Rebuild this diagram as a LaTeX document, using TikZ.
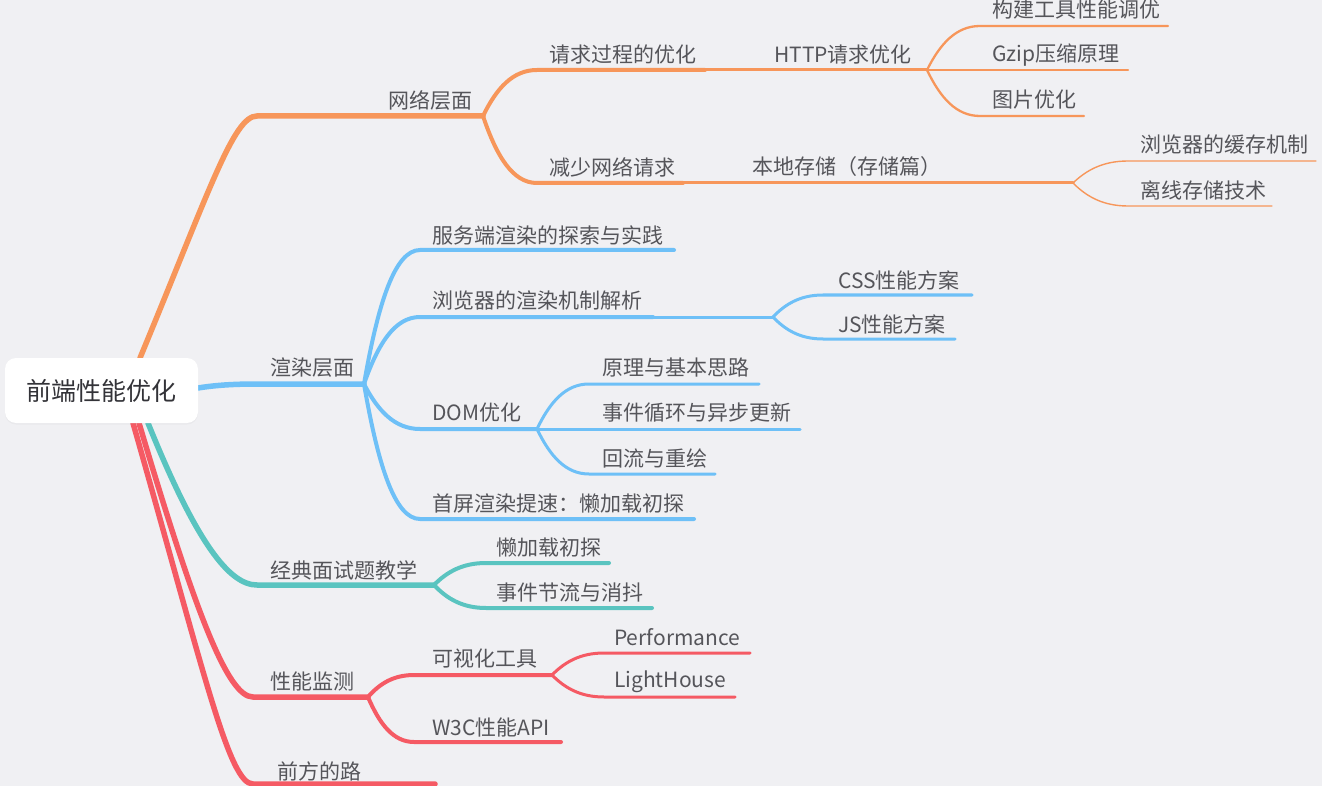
\documentclass[tikz,border=0pt]{standalone}
\usepackage{fontspec}
\setmainfont{Noto Sans CJK SC}
\usetikzlibrary{calc,shadows}
\definecolor{bg}{HTML}{F0F0F3}
\definecolor{cor}{HTML}{F7965A}
\definecolor{cbl}{HTML}{6EC0F7}
\definecolor{cte}{HTML}{5AC4C0}
\definecolor{cre}{HTML}{F55A64}
\definecolor{txt}{HTML}{55555A}
\definecolor{roottxt}{HTML}{333338}
% curve from a fork to the start of a child's line, then the child's straight line
\newcommand\mmsub[4]{\draw[#4] let \p1=(#1), \p2=(#2) in (\p1) .. controls ({\x1+0.25*(\x2-\x1)},{\y1+0.6*(\y2-\y1)}) and ({\x1+0.55*(\x2-\x1)},\y2) .. (\p2) -- (#3);}
% root branch: #5,#6 first control fractions, #7 second control fraction
\newcommand\mmroot[7]{\draw[#4] let \p1=(#1), \p2=(#2) in (\p1) .. controls ({\x1+#5*(\x2-\x1)},{\y1+#6*(\y2-\y1)}) and ({\x1+#7*(\x2-\x1)},\y2) .. (\p2) -- (#3);}
\tikzset{
  lv1/.style={line width=5.5pt, line cap=round},
  lv2/.style={line width=4pt, line cap=round},
  lv3/.style={line width=3pt, line cap=round},
  lv4/.style={line width=2.3pt, line cap=round},
  lv5/.style={line width=1.4pt, line cap=round},
  lbl/.style={anchor=west, inner sep=0pt, text=txt, font=\fontsize{21}{25}\selectfont},
  rootbox/.style={fill=white, rounded corners=11pt, minimum width=193pt, minimum height=65pt, inner sep=0pt,
     text=roottxt, font=\fontsize{25}{30}\selectfont,
     drop shadow={shadow xshift=0pt, shadow yshift=-1.5pt, opacity=0.06}},
}
\begin{document}
\begin{tikzpicture}[x=1pt,y=-1pt]
\fill[bg] (0,0) rectangle (1322,786);
\useasboundingbox (0,0) rectangle (1322,786);

% ---------- coordinates ----------
% orange
\coordinate (rO) at (140,358);
\coordinate (wS) at (257,116); \coordinate (wF) at (483,116);
\coordinate (qS) at (537,70);  \coordinate (qE) at (705,70); \coordinate (hF) at (927,70);
\coordinate (g1S) at (980,26); \coordinate (g1E) at (1168,26);
\coordinate (g2E) at (1128,70);
\coordinate (g3S) at (980,116); \coordinate (g3E) at (1084,116);
\coordinate (jS) at (537,183); \coordinate (jE) at (683,183); \coordinate (lF) at (1073,183);
\coordinate (k1S) at (1128,161); \coordinate (k1E) at (1316,161);
\coordinate (k2S) at (1128,206); \coordinate (k2E) at (1272,206);
% blue
\coordinate (rB) at (198,388); \coordinate (xS) at (257,384); \coordinate (xF) at (364,384);
\coordinate (s1S) at (420,250); \coordinate (s1E) at (674,250);
\coordinate (s2S) at (420,317); \coordinate (s2E) at (653,317); \coordinate (s2F) at (773,317);
\coordinate (c1S) at (823,295); \coordinate (c1E) at (972,295);
\coordinate (c2S) at (823,339); \coordinate (c2E) at (955,339);
\coordinate (s3S) at (420,429); \coordinate (dF) at (537,429);
\coordinate (d1S) at (589,384); \coordinate (d1E) at (759,384);
\coordinate (d2E) at (800,429);
\coordinate (d3S) at (589,474); \coordinate (d3E) at (715,474);
\coordinate (s4S) at (420,519); \coordinate (s4E) at (694,519);
% teal
\coordinate (rT) at (148,423); \coordinate (tS) at (257,585); \coordinate (tF) at (434,585);
\coordinate (t1S) at (486,563); \coordinate (t1E) at (609,563);
\coordinate (t2S) at (486,608); \coordinate (t2E) at (652,608);
% red
\coordinate (rR1) at (139,423); \coordinate (pS) at (253,697); \coordinate (pF) at (368,697);
\coordinate (vS) at (414,675); \coordinate (vF) at (552,675);
\coordinate (v1S) at (604,653); \coordinate (v1E) at (750,653);
\coordinate (v2S) at (604,697); \coordinate (v2E) at (735,697);
\coordinate (wcS) at (414,742); \coordinate (wcE) at (561,742);
\coordinate (rR2) at (133,423); \coordinate (fS) at (253,784); \coordinate (fE) at (435,784);

% ---------- connectors ----------
% orange
\mmroot{rO}{wS}{wF}{cor,lv1}{0.6}{0.7}{0.8}
\mmsub{wF}{qS}{qE}{cor,lv2}
\draw[cor,lv3] (qE) -- (hF);
\mmsub{hF}{g1S}{g1E}{cor,lv4}
\draw[cor,lv4] (hF) -- (g2E);
\mmsub{hF}{g3S}{g3E}{cor,lv4}
\mmsub{wF}{jS}{jE}{cor,lv2}
\draw[cor,lv3] (jE) -- (lF);
\mmsub{lF}{k1S}{k1E}{cor,lv5}
\mmsub{lF}{k2S}{k2E}{cor,lv5}
% blue
\mmsub{rB}{xS}{xF}{cbl,lv1}
\mmsub{xF}{s1S}{s1E}{cbl,lv2}
\mmsub{xF}{s2S}{s2E}{cbl,lv2}
\draw[cbl,lv3] (s2E) -- (s2F);
\mmsub{s2F}{c1S}{c1E}{cbl,lv3}
\mmsub{s2F}{c2S}{c2E}{cbl,lv3}
\mmsub{xF}{s3S}{dF}{cbl,lv2}
\mmsub{dF}{d1S}{d1E}{cbl,lv3}
\draw[cbl,lv3] (dF) -- (d2E);
\mmsub{dF}{d3S}{d3E}{cbl,lv3}
\mmsub{xF}{s4S}{s4E}{cbl,lv2}
% teal
\mmroot{rT}{tS}{tF}{cte,lv1}{0.45}{0.75}{0.75}
\mmsub{tF}{t1S}{t1E}{cte,lv2}
\mmsub{tF}{t2S}{t2E}{cte,lv2}
% red
\mmroot{rR1}{pS}{pF}{cre,lv1}{0.5}{0.7}{0.78}
\mmsub{pF}{vS}{vF}{cre,lv2}
\mmsub{vF}{v1S}{v1E}{cre,lv3}
\mmsub{vF}{v2S}{v2E}{cre,lv3}
\mmsub{pF}{wcS}{wcE}{cre,lv2}
\mmroot{rR2}{fS}{fE}{cre,lv1}{0.6}{0.7}{0.8}

% ---------- labels ----------
\node[rootbox] (R) at (101.5,390.5) {前端性能优化};

\node[lbl] (n1) at (388,100) {网络层面};
\node[lbl] (n2) at (549,55) {请求过程的优化};
\node[lbl] (n3) at (774,55) {HTTP请求优化};
\node[lbl] (n4) at (992,10) {构建工具性能调优};
\node[lbl] (n5) at (992,55) {Gzip压缩原理};
\node[lbl] (n6) at (992,100) {图片优化};
\node[lbl] (n7) at (549,167) {减少网络请求};
\node[lbl] (n8) at (752,167) {本地存储（存储篇）};
\node[lbl] (n9) at (1140,145) {浏览器的缓存机制};
\node[lbl] (n10) at (1140,190) {离线存储技术};

\node[lbl] (n11) at (270,368) {渲染层面};
\node[lbl] (n12) at (432,235) {服务端渲染的探索与实践};
\node[lbl] (n13) at (432,301) {浏览器的渲染机制解析};
\node[lbl] (n14) at (838,280) {CSS性能方案};
\node[lbl] (n15) at (838,324) {JS性能方案};
\node[lbl] (n16) at (432,413) {DOM优化};
\node[lbl] (n17) at (602,368) {原理与基本思路};
\node[lbl] (n18) at (602,413) {事件循环与异步更新};
\node[lbl] (n19) at (602,458) {回流与重绘};
\node[lbl] (n20) at (432,503) {首屏渲染提速：懒加载初探};

\node[lbl] (n21) at (270,570) {经典面试题教学};
\node[lbl] (n22) at (496,548) {懒加载初探};
\node[lbl] (n23) at (496,593) {事件节流与消抖};

\node[lbl] (n24) at (270,681) {性能监测};
\node[lbl] (n25) at (432,659) {可视化工具};
\node[lbl] (n26) at (614,637) {Performance};
\node[lbl] (n27) at (614,682) {LightHouse};
\node[lbl] (n28) at (432,727) {W3C性能API};
\node[lbl] (n29) at (277,771) {前方的路};
\end{tikzpicture}
\end{document}
